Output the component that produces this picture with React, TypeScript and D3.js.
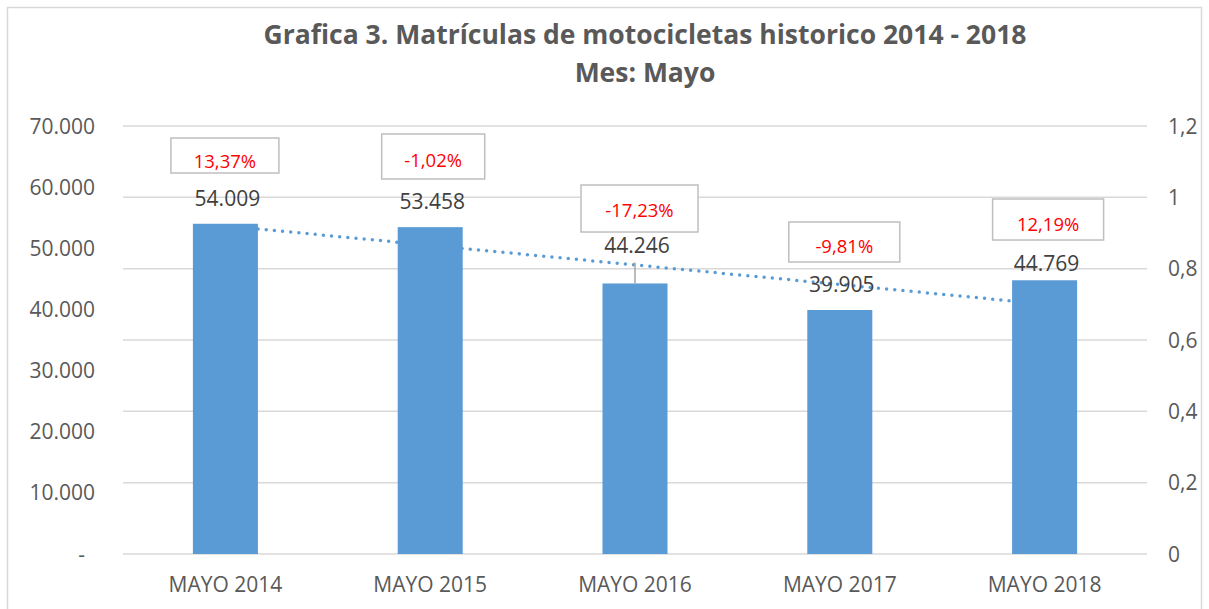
import * as d3 from 'd3';

const categories = ['MAYO 2014', 'MAYO 2015', 'MAYO 2016', 'MAYO 2017', 'MAYO 2018'];
const matriculas = [54009, 53458, 44246, 39905, 44769];
const variacion = ['13,37%', '-1,02%', '-17,23%', '-9,81%', '12,19%'];
const leftTicks = [0, 10000, 20000, 30000, 40000, 50000, 60000, 70000];
const rightTicks = [0, 0.2, 0.4, 0.6, 0.8, 1, 1.2];

// manual placement of labels (as in the original Excel chart)
const valueLabelOffset = [25, 25.5, 37.5, 26, 17];
const pctBoxes = [
    { dx: -0.5, top: 138, w: 108, h: 35, base: 168 },
    { dx: 3, top: 134, w: 103, h: 45, base: 167 },
    { dx: 4.5, top: 185, w: 117, h: 47, base: 217 },
    { dx: 4.5, top: 222, w: 111, h: 40, base: 253 },
    { dx: 3.5, top: 199, w: 111, h: 41, base: 231 },
];

const W = 1209;
const H = 609;
const margin = { top: 126, right: 62, bottom: 55, left: 123 };
const FONT = "'Open Sans', sans-serif";

export default function App() {
    const x = d3
        .scaleBand<string>()
        .domain(categories)
        .range([margin.left, W - margin.right])
        .paddingInner(0.6825)
        .paddingOuter(0.34125);

    const y = d3.scaleLinear().domain([0, 70000]).range([H - margin.bottom, margin.top]);
    const y2 = d3.scaleLinear().domain([0, 1.2]).range([H - margin.bottom, margin.top]);

    const cx = (c: string) => x(c)! + x.bandwidth() / 2;

    // linear trendline (least squares), like Excel
    const idx = matriculas.map((_, i) => i + 1);
    const mx = d3.mean(idx)!;
    const my = d3.mean(matriculas)!;
    const slope = d3.sum(idx, (v, i) => (v - mx) * (matriculas[i] - my)) / d3.sum(idx, (v) => (v - mx) ** 2);
    const trend = (i: number) => my + slope * (i - mx);
    const trendLine = d3
        .line<number>()
        .x((i) => cx(categories[i - 1]))
        .y((i) => y(trend(i)));

    const fmtLeft = (v: number) => (v === 0 ? '-' : d3.format(',')(v).replace(/,/g, '.'));
    const fmtRight = (v: number) => String(+v.toFixed(1)).replace('.', ',');

    return (
        <svg width={W} height={H} style={{ position: 'absolute', left: 0, top: 0, background: '#fff' }} fontFamily={FONT}>
            <rect x={7.5} y={7.5} width={1194} height={620} fill="#fff" stroke="#d9d9d9" strokeWidth={1.5} />

            <text x={645} y={44} textAnchor="middle" fontSize={26.5} fontWeight="bold" fill="#595959">
                Grafica 3. Matrículas de motocicletas historico 2014 - 2018
            </text>
            <text x={645} y={82} textAnchor="middle" fontSize={26.5} fontWeight="bold" fill="#595959">
                Mes: Mayo
            </text>

            {/* gridlines (secondary axis) */}
            {rightTicks.map((t) => (
                <line key={t} x1={margin.left} x2={W - margin.right} y1={y2(t)} y2={y2(t)} stroke="#d9d9d9" strokeWidth={1.5} />
            ))}

            {/* left axis labels */}
            {leftTicks.map((t) => (
                <text key={t} x={t === 0 ? 85 : 95} y={y(t) + 7.5} textAnchor="end" fontSize={21} fill="#595959">
                    {fmtLeft(t)}
                </text>
            ))}

            {/* right axis labels */}
            {rightTicks.map((t) => (
                <text key={t} x={1168} y={y2(t) + 7.5} textAnchor="start" fontSize={21} fill="#595959">
                    {fmtRight(t)}
                </text>
            ))}

            {/* trendline behind bars */}
            <path d={trendLine(idx) ?? ''} fill="none" stroke="#5b9bd5" strokeWidth={3.5} strokeDasharray="0 8.2" strokeLinecap="round" />

            {categories.map((c, i) => (
                <rect key={c} x={x(c)} y={y(matriculas[i])} width={x.bandwidth()} height={y(0) - y(matriculas[i])} fill="#5b9bd5" />
            ))}

            {/* leader line for moved label */}
            <line x1={cx(categories[2])} x2={cx(categories[2])} y1={y(matriculas[2]) - 21} y2={y(matriculas[2])} stroke="#a6a6a6" strokeWidth={1.5} />

            {/* value labels */}
            {categories.map((c, i) => (
                <text key={c} x={cx(c) + 2} y={y(matriculas[i]) - valueLabelOffset[i] + 7.5} textAnchor="middle" fontSize={21} fill="#404040">
                    {d3.format(',')(matriculas[i]).replace(/,/g, '.')}
                </text>
            ))}

            {/* percentage change boxes */}
            {categories.map((c, i) => {
                const b = pctBoxes[i];
                const bx = cx(c) + b.dx;
                return (
                    <g key={c}>
                        <rect x={bx - b.w / 2} y={b.top} width={b.w} height={b.h} fill="#fff" stroke="#bfbfbf" strokeWidth={1.5} />
                        <text x={bx} y={b.base} textAnchor="middle" fontSize={18.5} fill="#ff0000">
                            {variacion[i]}
                        </text>
                    </g>
                );
            })}

            {/* category labels */}
            {categories.map((c) => (
                <text key={c} x={cx(c)} y={592} textAnchor="middle" fontSize={21} fill="#595959">
                    {c}
                </text>
            ))}
        </svg>
    );
}
